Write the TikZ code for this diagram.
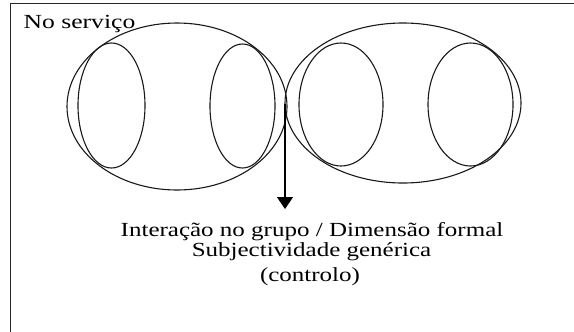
\documentclass[tikz,border=0pt]{standalone}
\usepackage{fontspec}
\setmainfont{Liberation Serif}
\usetikzlibrary{arrows.meta}
\tikzset{
  loop/.style={draw=black!90, line width=1.1bp},
  frameline/.style={draw=black!85, line width=1.6bp},
  lbl/.style={anchor=base, inner sep=0pt, font=\fontsize{20bp}{24bp}\selectfont},
  pointer/.style={draw=black, line width=1.3bp, -{Triangle[length=12bp,width=16bp]}}
}
\begin{document}
\begin{tikzpicture}[x=1bp,y=-1bp]
\useasboundingbox (0,0) rectangle (574,331);
\clip (0,0) rectangle (574,331);
\fill[white] (0,0) rectangle (574,331);
% frame (extends beyond the picture at right and bottom)
\draw[frameline] (10.5,340) -- (10.5,3.5) -- (590,3.5);
% left group
\coordinate (Lc) at (177,106.5);
\coordinate (L1c) at (111.5,105.5);
\coordinate (L2c) at (242.5,106);
\draw[loop] (Lc) ellipse [x radius=110, y radius=83.5];
\draw[loop] (L1c) ellipse [x radius=33.5, y radius=62.5];
\draw[loop] (L2c) ellipse [x radius=32.5, y radius=62];
% right group
\coordinate (Rc) at (403,103);
\coordinate (R1c) at (341,104.5);
\coordinate (R2c) at (470.5,104.5);
\draw[loop] (Rc) ellipse [x radius=118, y radius=80];
\draw[loop] (R1c) ellipse [x radius=42, y radius=61.5];
\draw[loop] (R2c) ellipse [x radius=42.5, y radius=61.5];
% labels
\node[lbl] (top) at (79.5,28.5) {\scalebox{1.28}[1]{No serviço}};
\node[lbl] (t1) at (312,236) {\scalebox{1.25}[1]{Interação no grupo / Dimensão formal}};
\node[lbl] (t2) at (311.5,256) {\scalebox{1.25}[1]{Subjectividade genérica}};
\node[lbl] (t3) at (310,281.5) {\scalebox{1.25}[1]{(controlo)}};
% arrow
\coordinate (touch) at (285,104);
\coordinate (tip) at (285,209);
\draw[pointer] (touch) -- (tip);
\end{tikzpicture}
\end{document}
